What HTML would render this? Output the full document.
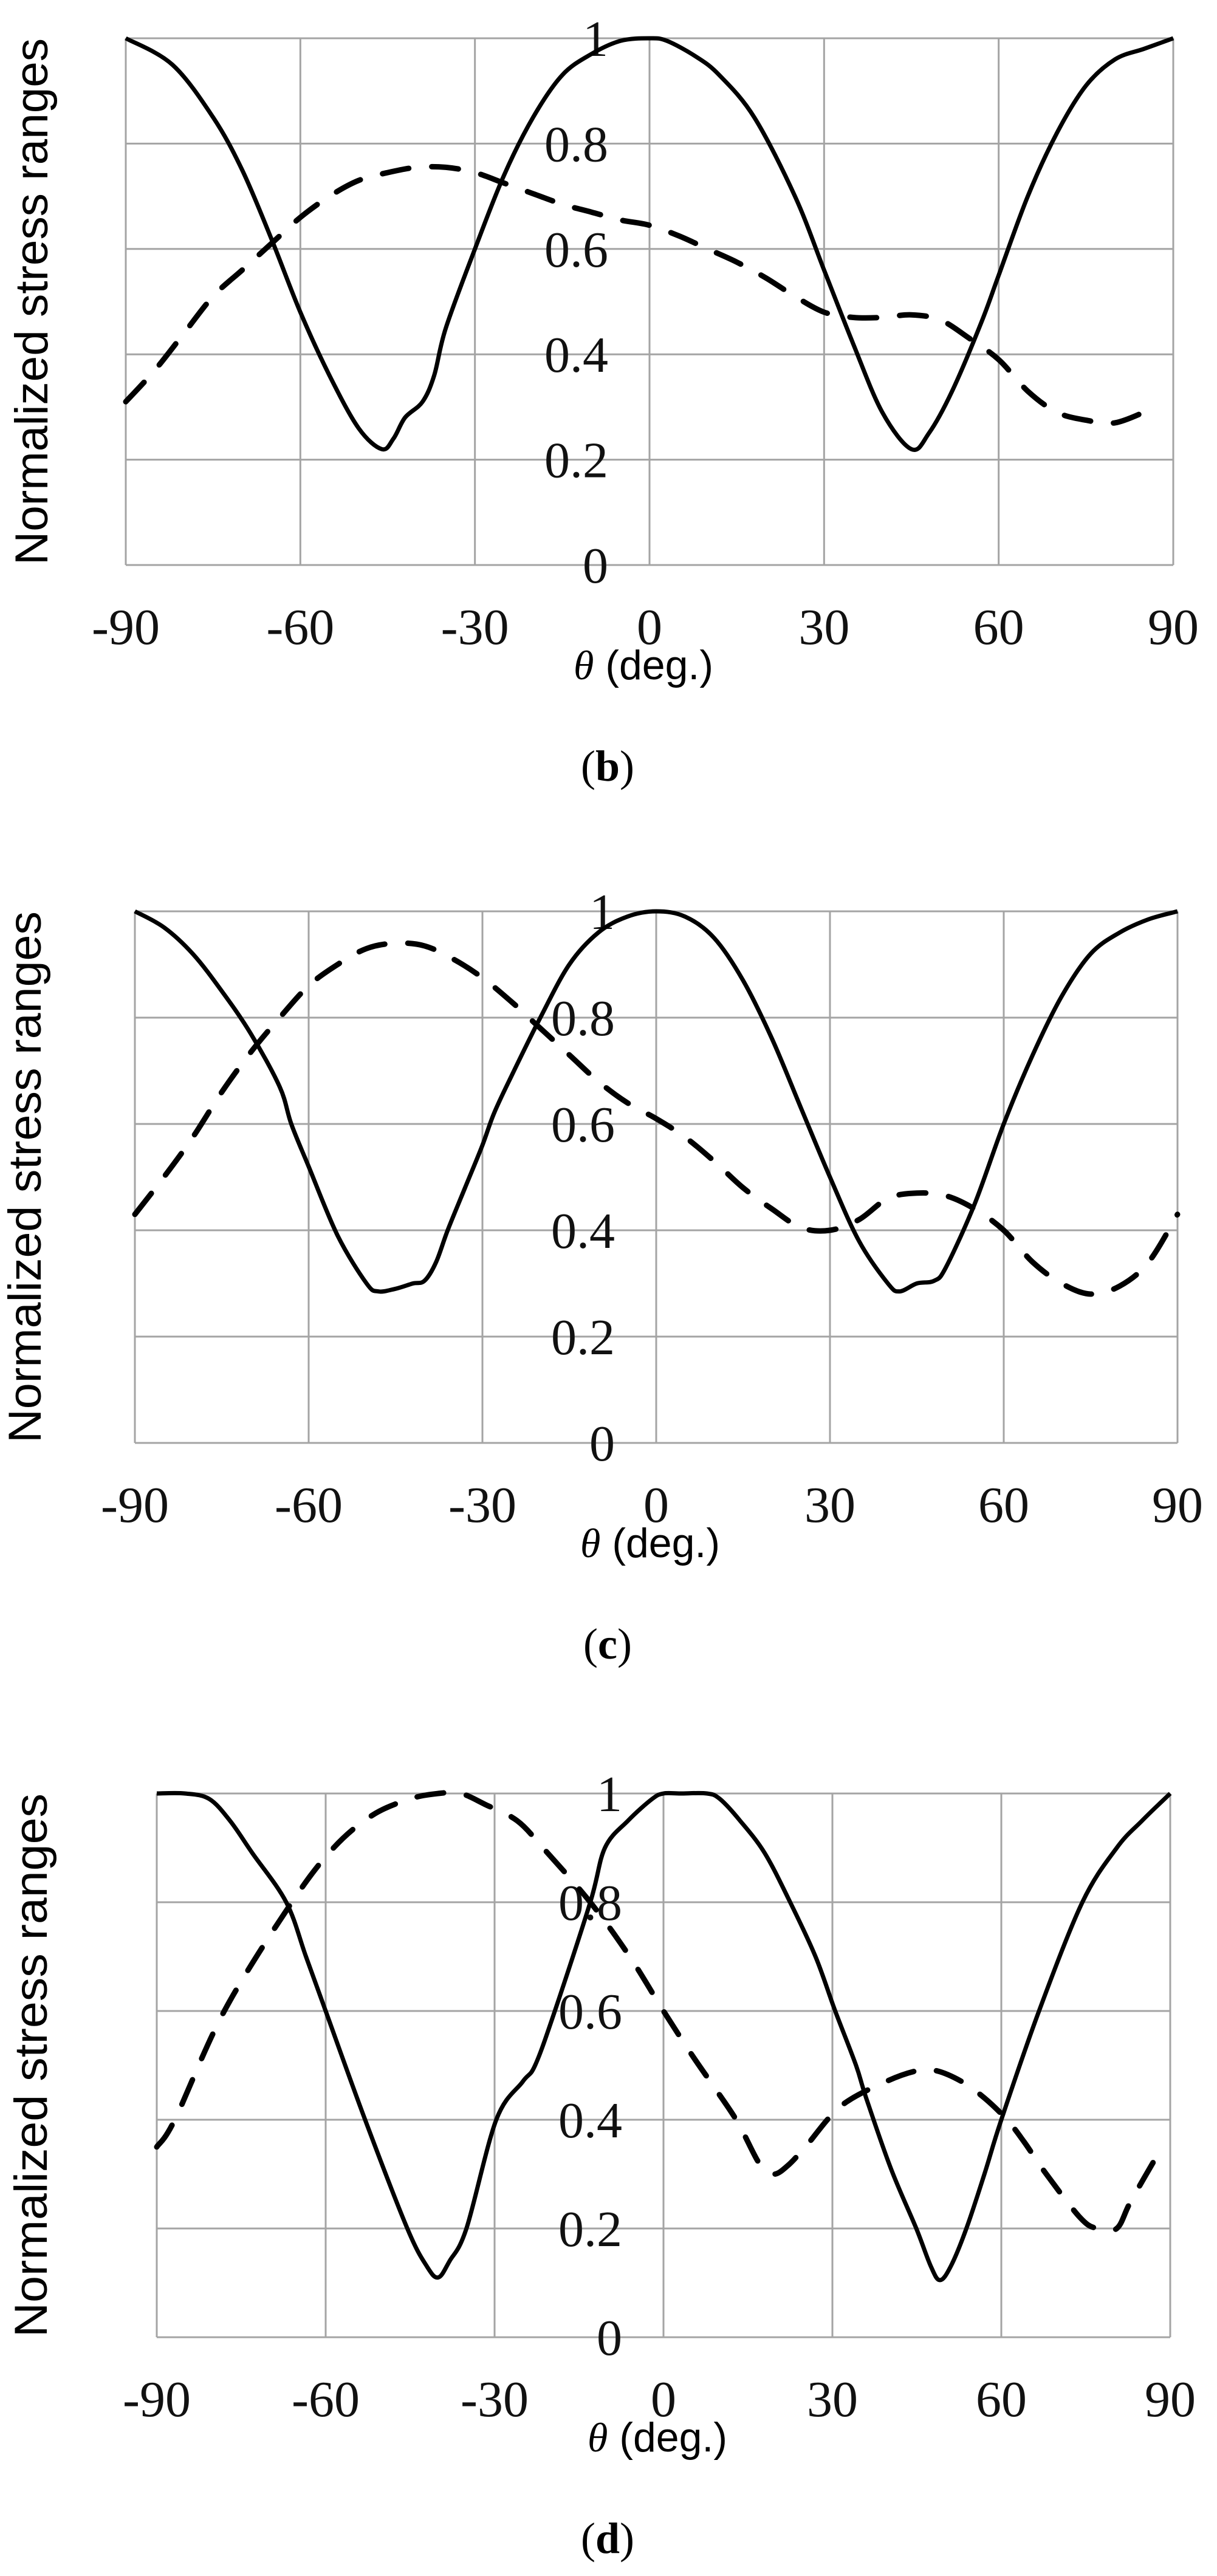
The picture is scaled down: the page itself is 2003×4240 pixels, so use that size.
<!DOCTYPE html>
<html><head><meta charset="utf-8">
<style>
html,body{margin:0;padding:0;background:#fff;}
svg{display:block;}
.tk{font-family:"Liberation Serif",serif;font-size:84px;fill:#111;}
.yl{font-family:"Liberation Sans",sans-serif;font-size:76px;fill:#000;}
.xl{font-family:"Liberation Sans",sans-serif;font-size:68px;fill:#000;}
.pl{font-family:"Liberation Serif",serif;font-size:72px;fill:#000;}
</style></head>
<body>
<svg id="s" width="2003" height="4240" xmlns="http://www.w3.org/2000/svg"></svg>
<script>
const S=document.getElementById('s');
const NS="http://www.w3.org/2000/svg";
function el(t,a,txt){const e=document.createElementNS(NS,t);for(const k in a)e.setAttribute(k,a[k]);if(txt!==undefined)e.textContent=txt;S.appendChild(e);return e;}
function path(pts,fx,fy){
  const P=pts.map(p=>[fx(p[0]),fy(p[1])]);
  let d="M"+P[0][0].toFixed(1)+","+P[0][1].toFixed(1);
  for(let i=0;i<P.length-1;i++){
    const p0=P[i-1]||P[i],p1=P[i],p2=P[i+1],p3=P[i+2]||P[i+1];
    const c1=[p1[0]+(p2[0]-p0[0])/6,p1[1]+(p2[1]-p0[1])/6];
    const c2=[p2[0]-(p3[0]-p1[0])/6,p2[1]-(p3[1]-p1[1])/6];
    d+=" C"+c1[0].toFixed(1)+","+c1[1].toFixed(1)+" "+c2[0].toFixed(1)+","+c2[1].toFixed(1)+" "+p2[0].toFixed(1)+","+p2[1].toFixed(1);
  }
  return d;
}
function panel(o){
  const {x0,x1,y0,y1,solid,dash,lab,ylx}=o;
  const fx=t=>x0+(t+90)/180*(x1-x0);
  const fy=v=>y1-v*(y1-y0);
  for(let i=0;i<=6;i++){const x=x0+i*(x1-x0)/6;el('line',{x1:x,y1:y0,x2:x,y2:y1,stroke:'#a4a4a4','stroke-width':3});}
  for(let i=0;i<=5;i++){const y=y1-i*(y1-y0)/5;el('line',{x1:x0,y1:y,x2:x1,y2:y,stroke:'#a4a4a4','stroke-width':3});}
  const zx=fx(0);
  ['0','0.2','0.4','0.6','0.8','1'].forEach((s,i)=>{
    el('text',{x:zx-68,y:fy(i*0.2)+29,'text-anchor':'end',class:'tk'},s);
  });
  [-90,-60,-30,0,30,60,90].forEach(t=>{
    el('text',{x:fx(t),y:y1+130,'text-anchor':'middle',class:'tk'},String(t));
  });
  const t=el('text',{x:zx-10,y:y1+188,'text-anchor':'middle',class:'xl'});
  const a=document.createElementNS(NS,'tspan');a.setAttribute('font-family','Liberation Serif, serif');a.setAttribute('font-style','italic');a.textContent='θ';t.appendChild(a);
  const b=document.createElementNS(NS,'tspan');b.textContent=' (deg.)';t.appendChild(b);
  const cy=(y0+y1)/2;
  el('text',{x:ylx,y:cy,transform:`rotate(-90 ${ylx} ${cy})`,'text-anchor':'middle',class:'yl',textLength:(y1-y0),lengthAdjust:'spacingAndGlyphs'},'Normalized stress ranges');
  el('path',{d:path(dash,fx,fy),fill:'none',stroke:'#000','stroke-width':9,'stroke-dasharray':'44 38','stroke-linecap':'round'});
  el('path',{d:path(solid,fx,fy),fill:'none',stroke:'#000','stroke-width':7,'stroke-linejoin':'round'});
  const lt=el('text',{x:1000,y:y1+355,'text-anchor':'middle',class:'pl'});
  const p1=document.createElementNS(NS,'tspan');p1.textContent='(';lt.appendChild(p1);
  const p2=document.createElementNS(NS,'tspan');p2.setAttribute('font-weight','bold');p2.textContent=lab;lt.appendChild(p2);
  const p3=document.createElementNS(NS,'tspan');p3.textContent=')';lt.appendChild(p3);
}
panel({x0:207,x1:1931,y0:63,y1:930,ylx:78,lab:'b',
solid:[[-90,1],[-82,0.95],[-75,0.85],[-70,0.75],[-65,0.62],[-60,0.48],[-55,0.36],[-50,0.26],[-46,0.22],[-44,0.24],[-42,0.28],[-39,0.31],[-37,0.36],[-35,0.45],[-30,0.6],[-25,0.74],[-20,0.85],[-15,0.93],[-10,0.97],[-5,0.995],[0,1],[3,0.995],[8,0.965],[12,0.93],[18,0.85],[25,0.7],[30,0.56],[35,0.42],[40,0.29],[45,0.22],[48,0.25],[52,0.33],[57,0.46],[60,0.55],[65,0.7],[70,0.82],[75,0.91],[80,0.96],[85,0.98],[90,1]],
dash:[[-90,0.31],[-85,0.37],[-80,0.44],[-75,0.51],[-70,0.56],[-65,0.61],[-60,0.66],[-55,0.7],[-50,0.73],[-45,0.745],[-40,0.755],[-35,0.755],[-30,0.745],[-25,0.725],[-20,0.705],[-15,0.685],[-10,0.67],[-5,0.655],[0,0.645],[5,0.625],[10,0.6],[15,0.575],[20,0.545],[25,0.51],[30,0.48],[35,0.47],[40,0.47],[45,0.475],[50,0.465],[55,0.43],[60,0.39],[65,0.33],[70,0.29],[75,0.275],[80,0.27],[86,0.295]]});
panel({x0:222,x1:1938,y0:1500,y1:2375,ylx:67,lab:'c',
solid:[[-90,1],[-85,0.97],[-80,0.92],[-75,0.85],[-70,0.77],[-65,0.67],[-63,0.6],[-60,0.52],[-55,0.39],[-50,0.3],[-48,0.285],[-45,0.29],[-42,0.3],[-40,0.305],[-38,0.34],[-36,0.4],[-33,0.48],[-30,0.56],[-28,0.62],[-25,0.69],[-20,0.8],[-15,0.9],[-10,0.96],[-5,0.99],[0,1],[5,0.99],[10,0.95],[15,0.87],[20,0.76],[25,0.63],[30,0.5],[35,0.38],[40,0.3],[42,0.285],[45,0.3],[48,0.305],[50,0.33],[55,0.45],[60,0.6],[65,0.73],[70,0.84],[75,0.92],[80,0.96],[85,0.985],[90,1]],
dash:[[-90,0.43],[-85,0.5],[-80,0.575],[-75,0.66],[-70,0.735],[-65,0.8],[-60,0.86],[-55,0.9],[-50,0.93],[-45,0.94],[-40,0.935],[-35,0.91],[-30,0.875],[-25,0.83],[-22,0.8],[-15,0.73],[-10,0.68],[-5,0.64],[0,0.61],[5,0.575],[10,0.53],[15,0.48],[20,0.44],[25,0.405],[30,0.4],[35,0.42],[40,0.46],[45,0.47],[50,0.465],[55,0.44],[60,0.4],[65,0.34],[70,0.3],[75,0.28],[80,0.295],[85,0.34],[90,0.43]]});
panel({x0:258,x1:1926,y0:2952,y1:3847,ylx:77,lab:'d',
solid:[[-90,1],[-85,1],[-80.7,0.99],[-77,0.95],[-73,0.89],[-67,0.8],[-63.5,0.7],[-60,0.6],[-53,0.4],[-45.5,0.2],[-42,0.13],[-40,0.11],[-38,0.14],[-35,0.2],[-29.7,0.4],[-25,0.47],[-22.8,0.5],[-19.3,0.6],[-13,0.8],[-10.4,0.9],[-6.3,0.95],[-2,0.99],[0,1],[3,1],[7.7,1],[10,0.99],[13.6,0.95],[18,0.89],[22.5,0.8],[27,0.7],[30.5,0.6],[34.2,0.5],[36,0.44],[40.4,0.31],[44.9,0.2],[47.5,0.13],[49.1,0.105],[51,0.13],[53.8,0.2],[57,0.3],[60,0.4],[66.7,0.6],[74.4,0.8],[80.5,0.9],[85,0.95],[90,1]],
dash:[[-90,0.35],[-86.8,0.4],[-78,0.6],[-66,0.8],[-58.6,0.9],[-51.7,0.96],[-45,0.99],[-40,1],[-36,1],[-31.7,0.98],[-26,0.95],[-21.4,0.9],[-13,0.8],[-6,0.7],[0,0.6],[5,0.52],[9,0.46],[13.2,0.395],[17,0.32],[19.5,0.3],[22,0.315],[25.2,0.35],[31.5,0.425],[39.5,0.47],[45,0.49],[48.5,0.49],[53,0.47],[57,0.44],[61,0.4],[64,0.36],[68,0.3],[74,0.22],[77,0.2],[80.5,0.2],[83,0.25],[88,0.34]]});
</script>
</body></html>
